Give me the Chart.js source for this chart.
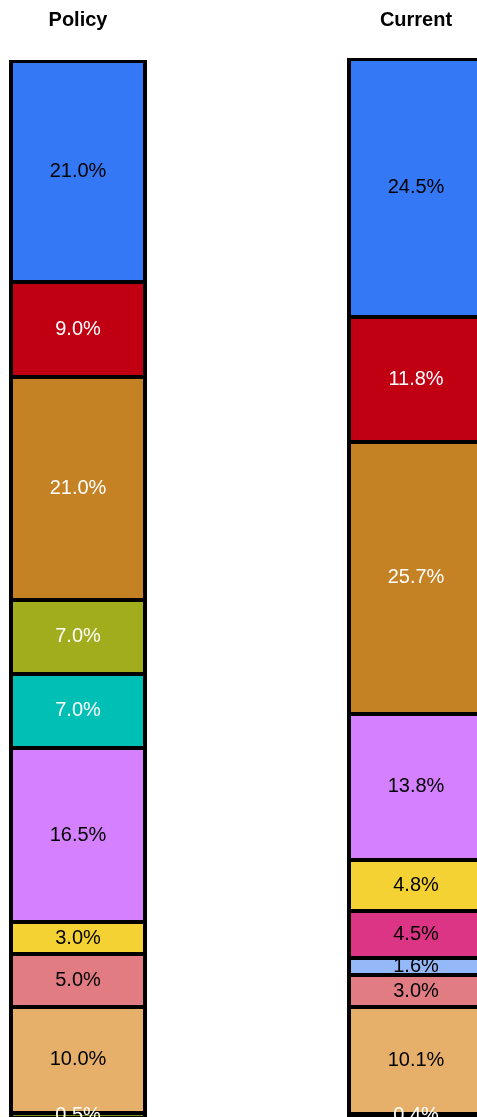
<!DOCTYPE html>
<html>
<head>
<meta charset="utf-8">
<script src="https://cdn.jsdelivr.net/npm/chart.js@4.4.1/dist/chart.umd.min.js"></script>
<style>
  html, body { margin: 0; padding: 0; background: #ffffff; overflow: hidden; width: 477px; height: 1117px; }
  #wrap { position: absolute; left: -91px; top: -20px; width: 676px; height: 1138px; }
</style>
</head>
<body>
<div id="wrap"><canvas id="c" width="676" height="1138"></canvas></div>
<script>
// Categories (columns)
const categories = ["Policy", "Current"];

// Segment values, listed bottom of the stack first
const segBottomOlive = [0.5, 0.4];
const segTan         = [10.0, 10.1];
const segPink        = [5.0, 3.0];
const segLightBlue   = [0, 1.6];
const segMagenta     = [0, 4.5];
const segYellow      = [3.0, 4.8];
const segPurple      = [16.5, 13.8];
const segTeal        = [7.0, 0];
const segOlive       = [7.0, 0];
const segBrown       = [21.0, 25.7];
const segRed         = [9.0, 11.8];
const segBlue        = [21.0, 24.5];

const seriesNames = ["Segment L", "Segment K", "Segment J", "Segment I", "Segment H", "Segment G",
                     "Segment F", "Segment E", "Segment D", "Segment C", "Segment B", "Segment A"];
const seriesValues = [segBottomOlive, segTan, segPink, segLightBlue, segMagenta, segYellow,
                      segPurple, segTeal, segOlive, segBrown, segRed, segBlue];
const seriesColors = ["#7D8B12", "#E6B06A", "#E07C82", "#94B8F8", "#DD3585", "#F5D233",
                      "#D580FF", "#00BFB5", "#A2AD1E", "#C48224", "#C00012", "#3478F6"];
const labelColors  = ["#ffffff", "#000000", "#000000", "#000000", "#000000", "#000000",
                      "#000000", "#ffffff", "#ffffff", "#ffffff", "#ffffff", "#000000"];

const datasets = seriesValues.map((vals, i) => ({
  label: seriesNames[i],
  data: vals,
  backgroundColor: seriesColors[i],
  borderWidth: 0,
  inflateAmount: -0.5,
  barPercentage: 0.408,
  categoryPercentage: 1.0,
  labelColor: labelColors[i]
}));

// Black outlines around every segment (2px inside each edge, 4px on the sides)
const segmentOutlines = {
  id: "segmentOutlines",
  afterDatasetsDraw(chart) {
    const ctx = chart.ctx;
    ctx.save();
    ctx.fillStyle = "#000000";
    const n = chart.data.datasets.length;
    chart.data.labels.forEach((_, idx) => {
      let topMost = -1;
      for (let d = n - 1; d >= 0; d--) {
        if (chart.data.datasets[d].data[idx]) { topMost = d; break; }
      }
      for (let d = 0; d < n; d++) {
        const v = chart.data.datasets[d].data[idx];
        if (!v) continue;
        const el = chart.getDatasetMeta(d).data[idx];
        const top = Math.round(Math.min(el.y, el.base));
        const bottom = Math.round(Math.max(el.y, el.base));
        const left = Math.floor(el.x - el.width / 2);
        const right = Math.ceil(el.x + el.width / 2);
        const tw = d === topMost ? 3 : 2;
        ctx.fillRect(left, top, right - left, tw);
        ctx.fillRect(left, bottom - 2, right - left, 2);
        ctx.fillRect(left, top, 4, bottom - top);
        ctx.fillRect(right - 4, top, 4, bottom - top);
      }
    });
    ctx.restore();
  }
};

const segmentLabels = {
  id: "segmentLabels",
  afterDatasetsDraw(chart) {
    const ctx = chart.ctx;
    ctx.save();
    ctx.font = "20px 'Liberation Sans', Arial, sans-serif";
    ctx.textAlign = "center";
    ctx.textBaseline = "middle";
    chart.data.datasets.forEach((ds, di) => {
      const meta = chart.getDatasetMeta(di);
      meta.data.forEach((el, idx) => {
        const v = ds.data[idx];
        if (!v) return;
        ctx.fillStyle = ds.labelColor;
        ctx.fillText(v.toFixed(1) + "%", el.x, (el.y + el.base) / 2);
      });
    });
    ctx.restore();
  }
};

new Chart(document.getElementById("c"), {
  type: "bar",
  data: { labels: categories, datasets: datasets },
  options: {
    responsive: false,
    animation: false,
    devicePixelRatio: 1,
    layout: { padding: { top: 0, bottom: 0, left: 0, right: 0 } },
    plugins: { legend: { display: false }, tooltip: { enabled: false } },
    scales: {
      x: {
        position: "top",
        stacked: true,
        grid: { display: false, drawTicks: false },
        border: { display: false },
        ticks: {
          color: "#000000",
          padding: 28,
          font: { family: "'Liberation Sans', Arial, sans-serif", size: 20, weight: "bold" }
        }
      },
      y: {
        display: false,
        stacked: true,
        min: 0,
        max: 100
      }
    }
  },
  plugins: [segmentOutlines, segmentLabels]
});
</script>
</body>
</html>
